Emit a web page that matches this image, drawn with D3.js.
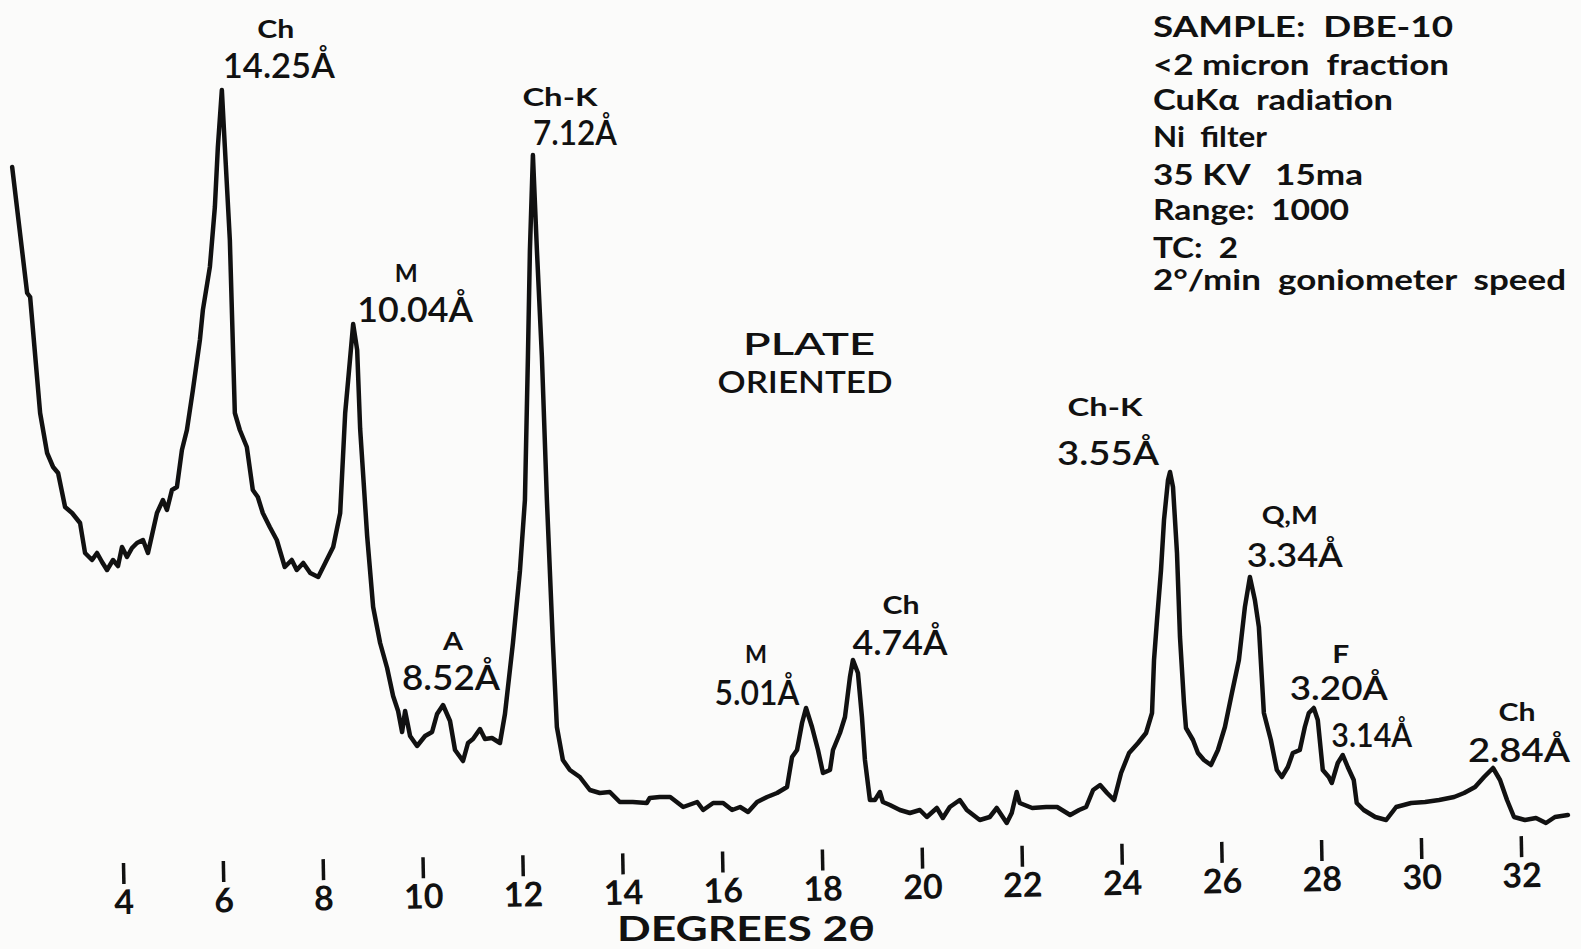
<!DOCTYPE html>
<html>
<head>
<meta charset="utf-8">
<script src="https://cdn.jsdelivr.net/npm/d3@7"></script>
<style>
  html, body { margin: 0; padding: 0; background: #fbfbfa; }
  svg { display: block; }
</style>
</head>
<body>
<script>
// diffraction trace (degrees 2-theta, relative intensity)
const twoTheta = [
  1.78, 2.08, 2.14, 2.34, 2.48, 2.60, 2.70, 2.84, 2.98, 3.14,
  3.24, 3.38, 3.48, 3.58, 3.68, 3.80, 3.90, 3.98, 4.08, 4.18,
  4.28, 4.40, 4.50, 4.68, 4.80, 4.88, 4.98, 5.08, 5.18, 5.28,
  5.40, 5.54, 5.60, 5.74, 5.84, 5.90, 5.98, 6.04, 6.14, 6.24,
  6.34, 6.48, 6.60, 6.70, 6.80, 6.94, 7.08, 7.24, 7.38, 7.48,
  7.61, 7.75, 7.91, 8.05, 8.21, 8.35, 8.45, 8.51, 8.61, 8.69,
  8.75, 8.89, 9.01, 9.15, 9.29, 9.41, 9.51, 9.59, 9.65, 9.75,
  9.89, 10.05, 10.19, 10.29, 10.41, 10.55, 10.65, 10.81, 10.91, 11.01,
  11.15, 11.25, 11.39, 11.55, 11.65, 11.81, 11.95, 12.05, 12.11, 12.15,
  12.21, 12.29, 12.39, 12.49, 12.61, 12.69, 12.81, 12.95, 13.15, 13.35,
  13.55, 13.75, 13.95, 14.21, 14.49, 14.55, 14.75, 14.96, 15.22, 15.50,
  15.62, 15.82, 16.02, 16.20, 16.36, 16.52, 16.70, 16.90, 17.10, 17.30,
  17.40, 17.50, 17.60, 17.68, 17.80, 17.92, 18.02, 18.16, 18.22, 18.36,
  18.46, 18.56, 18.62, 18.72, 18.80, 18.86, 18.96, 19.06, 19.16, 19.22,
  19.36, 19.56, 19.76, 19.96, 20.10, 20.30, 20.42, 20.56, 20.76, 20.90,
  21.16, 21.36, 21.50, 21.70, 21.80, 21.90, 21.96, 22.21, 22.49, 22.71,
  22.97, 23.15, 23.29, 23.43, 23.57, 23.71, 23.85, 23.99, 24.15, 24.33,
  24.49, 24.61, 24.65, 24.71, 24.79, 24.85, 24.93, 24.97, 25.03, 25.11,
  25.17, 25.25, 25.29, 25.43, 25.53, 25.65, 25.79, 25.93, 26.07, 26.21,
  26.35, 26.47, 26.57, 26.67, 26.75, 26.85, 26.99, 27.11, 27.21, 27.33,
  27.43, 27.57, 27.67, 27.75, 27.85, 27.93, 28.03, 28.15, 28.21, 28.33,
  28.43, 28.53, 28.65, 28.71, 28.85, 29.08, 29.30, 29.50, 29.80, 30.08,
  30.36, 30.66, 30.86, 31.08, 31.26, 31.44, 31.58, 31.72, 31.86, 32.08,
  32.30, 32.50, 32.68, 32.94
];
const intensity = [
  673, 547, 543, 427, 387, 373, 367, 333, 327, 317,
  287, 280, 287, 278, 270, 280, 274, 293, 283, 292,
  297, 300, 287, 327, 340, 330, 350, 353, 390, 410,
  450, 500, 530, 573, 633, 693, 750, 693, 600, 427,
  410, 393, 350, 343, 327, 313, 300, 273, 280, 270,
  277, 267, 263, 277, 293, 327, 427, 460, 516, 490,
  411, 304, 233, 197, 172, 144, 129, 108, 129, 104,
  94, 104, 108, 126, 135, 119, 90, 79, 97, 101,
  111, 101, 102, 97, 126, 197, 269, 340, 483, 590,
  685, 590, 483, 340, 197, 113, 80, 70, 63, 50,
  47, 48, 38, 38, 37, 42, 43, 43, 33, 38,
  30, 37, 37, 30, 33, 28, 38, 43, 47, 53,
  83, 90, 117, 132, 113, 90, 67, 70, 90, 107,
  123, 163, 180, 167, 123, 80, 40, 40, 48, 38,
  35, 30, 27, 30, 23, 32, 22, 33, 40, 30,
  20, 23, 32, 17, 27, 48, 37, 32, 33, 33,
  25, 30, 33, 50, 55, 47, 40, 67, 87, 97,
  107, 127, 180, 220, 270, 320, 360, 368, 353, 287,
  203, 137, 112, 100, 87, 80, 75, 90, 113, 147,
  180, 233, 263, 240, 213, 127, 100, 70, 63, 73,
  87, 90, 113, 127, 132, 120, 70, 63, 57, 77,
  85, 73, 60, 37, 30, 23, 20, 33, 37, 38,
  40, 43, 47, 53, 63, 72, 60, 40, 23, 20,
  22, 17, 23, 25
];

const tickValues = [4, 6, 8, 10, 12, 14, 16, 18, 20, 22, 24, 26, 28, 30, 32];

// identified reflections
const peakTheta   = [5.98, 12.21, 8.61, 10.41, 17.68, 18.62, 24.97, 26.57, 27.85, 28.43, 31.44];
const peakMineral = ["Ch", "Ch-K", "M", "A", "M", "Ch", "Ch-K", "Q,M", "F", "", "Ch"];
const peakSpacing = ["14.25Å", "7.12Å", "10.04Å", "8.52Å", "5.01Å", "4.74Å", "3.55Å", "3.34Å", "3.20Å", "3.14Å", "2.84Å"];

const runInfo = [
  "SAMPLE:  DBE-10",
  "<2 micron  fraction",
  "CuKα  radiation",
  "Ni  filter",
  "35 KV   15ma",
  "Range:  1000",
  "TC:  2",
  "2°/min  goniometer  speed"
];

// label placement: offset from peak x, baselines, widths, sizes
const labelLayout = [
  { dv: 57,  yv: 78,  wv: 112, fv: 35, dm: 54,  ym: 38,  wm: 37 },
  { dv: 42,  yv: 145, wv: 84,  fv: 35, dm: 27,  ym: 106, wm: 75 },
  { dv: 62,  yv: 322, wv: 116, fv: 35, dm: 53,  ym: 282, wm: 23 },
  { dv: 8,   yv: 690, wv: 98,  fv: 35, dm: 10,  ym: 650, wm: 20 },
  { dv: -49, yv: 705, wv: 85,  fv: 35, dm: -50, ym: 663, wm: 22 },
  { dv: 47,  yv: 655, wv: 95,  fv: 35, dm: 48,  ym: 614, wm: 37 },
  { dv: -62, yv: 465, wv: 102, fv: 33, dm: -65, ym: 416, wm: 75 },
  { dv: 45,  yv: 567, wv: 96,  fv: 33, dm: 40,  ym: 524, wm: 56 },
  { dv: 25,  yv: 700, wv: 98,  fv: 33, dm: 27,  ym: 663, wm: 17 },
  { dv: 29,  yv: 747, wv: 81,  fv: 33, dm: 0,   ym: 0,   wm: 0 },
  { dv: 26,  yv: 762, wv: 102, fv: 33, dm: 24,  ym: 721, wm: 37 }
];
const infoWidths = [300, 296, 240, 114, 210, 196, 85, 413];
const infoBaselines = [37, 75, 110, 147, 185, 220, 258, 290];

const W = 1581, H = 949;
const font = "Lato, 'DejaVu Sans', sans-serif";

const svg = d3.select("body").append("svg")
  .attr("width", W)
  .attr("height", H);

svg.append("rect").attr("width", W).attr("height", H).attr("fill", "#fbfbfa");

const x = d3.scaleLinear().domain([4, 32]).range([123, 1521]);
const y = d3.scaleLinear().domain([0, 840]).range([840, 0]);

// trace
const pts = twoTheta.map((t, i) => [t, intensity[i]]);
svg.append("path")
  .datum(pts)
  .attr("fill", "none")
  .attr("stroke", "#111")
  .attr("stroke-width", 4.5)
  .attr("stroke-linejoin", "round")
  .attr("stroke-linecap", "round")
  .attr("d", d3.line().x(d => x(d[0])).y(d => y(d[1])));

// 2-theta scale (slightly skewed on the paper)
const axis = d3.axisBottom(x)
  .tickValues(tickValues)
  .tickSizeInner(21)
  .tickSizeOuter(0)
  .tickPadding(6)
  .tickFormat(d3.format("d"));

const axisG = svg.append("g")
  .attr("transform", "translate(0,863) rotate(-1.1,123,0)")
  .call(axis);
axisG.select(".domain").remove();
axisG.selectAll(".tick line").attr("stroke", "#111").attr("stroke-width", 3.5);
axisG.selectAll(".tick text")
  .attr("fill", "#111")
  .style("font-family", font)
  .style("font-weight", 700)
  .style("font-size", "34px");

svg.append("text")
  .attr("x", 746).attr("y", 941)
  .attr("text-anchor", "middle")
  .attr("textLength", 258)
  .attr("lengthAdjust", "spacingAndGlyphs")
  .style("font-family", font)
  .style("font-weight", 700)
  .style("font-size", "35px")
  .attr("fill", "#111")
  .text("DEGREES 2θ");

// peak annotations
const ann = svg.append("g").attr("fill", "#111").style("font-family", font);
peakTheta.forEach((t, i) => {
  const L = labelLayout[i];
  const px = x(t);
  ann.append("text")
    .attr("x", px + L.dv).attr("y", L.yv)
    .attr("text-anchor", "middle")
    .attr("textLength", L.wv)
    .attr("lengthAdjust", "spacingAndGlyphs")
    .style("font-size", L.fv + "px")
    .style("font-weight", 600)
    .text(peakSpacing[i]);
  if (peakMineral[i]) {
    ann.append("text")
      .attr("x", px + L.dm).attr("y", L.ym)
      .attr("text-anchor", "middle")
      .attr("textLength", L.wm)
      .attr("lengthAdjust", "spacingAndGlyphs")
      .style("font-size", "25px")
      .style("font-weight", 700)
      .text(peakMineral[i]);
  }
});

ann.append("text")
  .attr("x", 809).attr("y", 355)
  .attr("text-anchor", "middle")
  .attr("textLength", 132).attr("lengthAdjust", "spacingAndGlyphs")
  .style("font-size", "30px")
  .style("font-weight", 600)
  .text("PLATE");
ann.append("text")
  .attr("x", 805).attr("y", 393)
  .attr("text-anchor", "middle")
  .attr("textLength", 175).attr("lengthAdjust", "spacingAndGlyphs")
  .style("font-size", "30px")
  .style("font-weight", 600)
  .text("ORIENTED");

// run conditions block
svg.append("g")
  .selectAll("text")
  .data(runInfo)
  .join("text")
  .attr("x", 1153)
  .attr("y", (d, i) => infoBaselines[i])
  .attr("textLength", (d, i) => infoWidths[i])
  .attr("lengthAdjust", "spacingAndGlyphs")
  .attr("fill", "#111")
  .style("white-space", "pre")
  .style("font-family", font)
  .style("font-weight", 700)
  .style("font-size", "28px")
  .text(d => d);
</script>
</body>
</html>
